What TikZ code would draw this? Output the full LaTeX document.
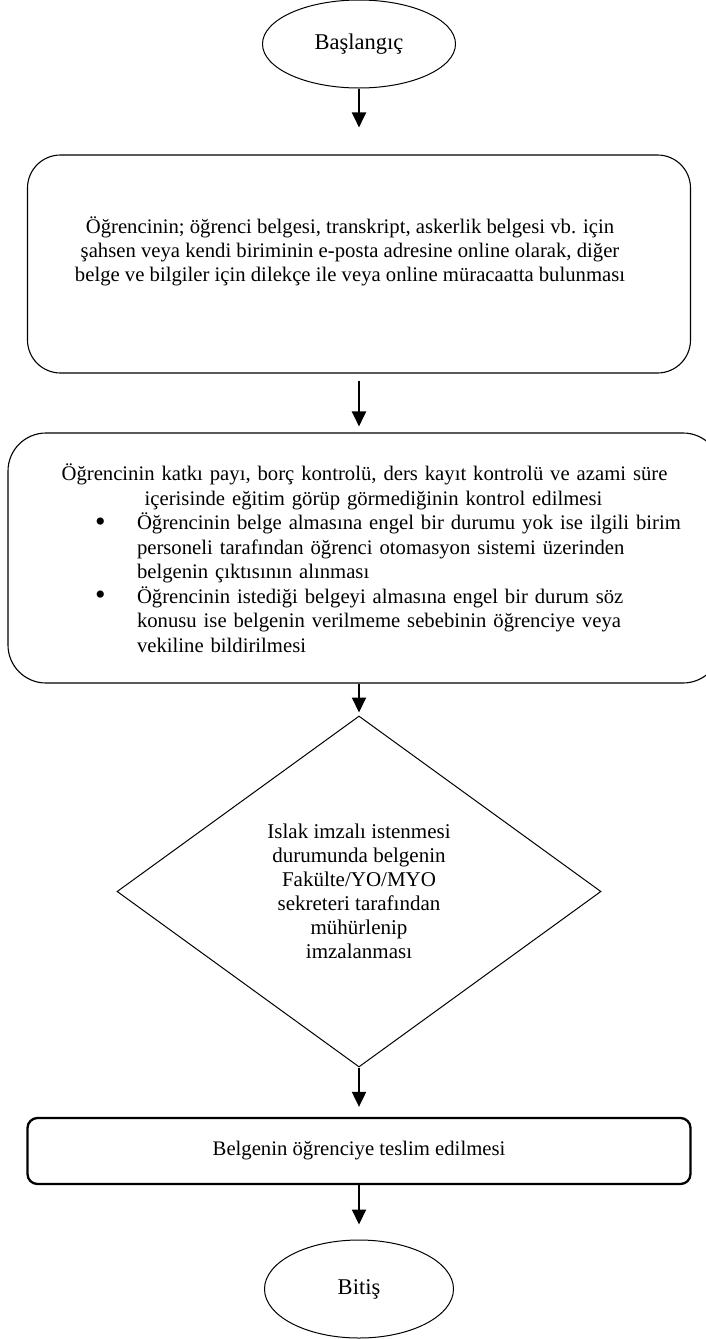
\documentclass[tikz,border=0pt]{standalone}
\usepackage{fontspec}
\setmainfont{Liberation Serif}
\usetikzlibrary{shapes.geometric, arrows.meta}

\begin{document}
\begin{tikzpicture}[
  x=1pt, y=-1pt, font=\fontsize{20.7}{24.5}\selectfont,
  term/.style={ellipse, draw, line width=1pt, inner sep=0pt, font=\fontsize{22.5}{26}\selectfont},
  stepbox/.style={rectangle, draw, line width=1.1pt, rounded corners=33pt, inner sep=0pt},
  lastbox/.style={rectangle, draw, line width=2.3pt, rounded corners=10pt, inner sep=0pt},
  cond/.style={diamond, draw, line width=1pt, inner sep=0pt, align=center,
    minimum width=484, minimum height=351, font=\fontsize{21}{24}\selectfont},
  flow/.style={-{Triangle[length=15pt, width=14pt]}, line width=2pt}]
  \useasboundingbox (0,0) rectangle (706,1339);
  \newcommand\bulletmark{\hspace*{60.5pt}\makebox[42pt][l]{\fontsize{30}{0}\selectfont\raisebox{-1.5pt}{\textbullet}}}
  % Başlangıç
  \node[term, minimum width=193, minimum height=88] (e1) at (359,44) {Başlangıç};
  % Başvuru
  \node[stepbox, minimum width=663, minimum height=218] (b1) at (359,264) {};
  \node[align=center, font=\fontsize{20.7}{24}\selectfont] (t1) at (350,251)
    {Öğrencinin; öğrenci belgesi, transkript, askerlik belgesi vb. için\\
     şahsen veya kendi biriminin e-posta adresine online olarak, diğer\\
     belge ve bilgiler için dilekçe ile veya online müracaatta bulunması};
  % Kontrol
  \node[stepbox, rounded corners=38pt, minimum width=713, minimum height=250,
    text width=660, align=left] (b2) at (364.5,558)
    {{\centering Öğrencinin katkı payı, borç kontrolü, ders kayıt kontrolü ve azami süre\\
      \hspace*{18pt}içerisinde eğitim görüp görmediğinin kontrol edilmesi\par}
     \hangindent=102.5pt\hangafter=1\noindent\bulletmark Öğrencinin belge almasına engel bir durumu yok ise ilgili birim\newline
     personeli tarafından öğrenci otomasyon sistemi üzerinden\newline
     belgenin çıktısının alınması\par
     \hangindent=102.5pt\hangafter=1\noindent\bulletmark Öğrencinin istediği belgeyi almasına engel bir durum söz\newline
     konusu ise belgenin verilmeme sebebinin öğrenciye veya\newline
     vekiline bildirilmesi\par};
  % Islak imza
  \node[cond] (d) at (359,891.5)
    {Islak imzalı istenmesi\\ durumunda belgenin\\ Fakülte/YO/MYO\\
     sekreteri tarafından\\ mühürlenip\\ imzalanması};
  % Teslim
  \node[lastbox, minimum width=663, minimum height=66] (b3) at (359,1151)
    {Belgenin öğrenciye teslim edilmesi};
  % Bitiş
  \node[term, minimum width=189, minimum height=98] (e2) at (359,1289) {Bitiş};
  % Oklar
  \draw[flow, shorten >=27pt] (e1) -- (b1);
  \draw[flow, shorten <=7pt, shorten >=6pt] (b1.south) -- (b1.south |- b2.north);
  \draw[flow, shorten >=3pt] (b2.south -| d.north) -- (d.north);
  \draw[flow, shorten >=10pt] (d) -- (b3);
  \draw[flow, shorten >=15pt] (b3) -- (e2);
\end{tikzpicture}
\end{document}
